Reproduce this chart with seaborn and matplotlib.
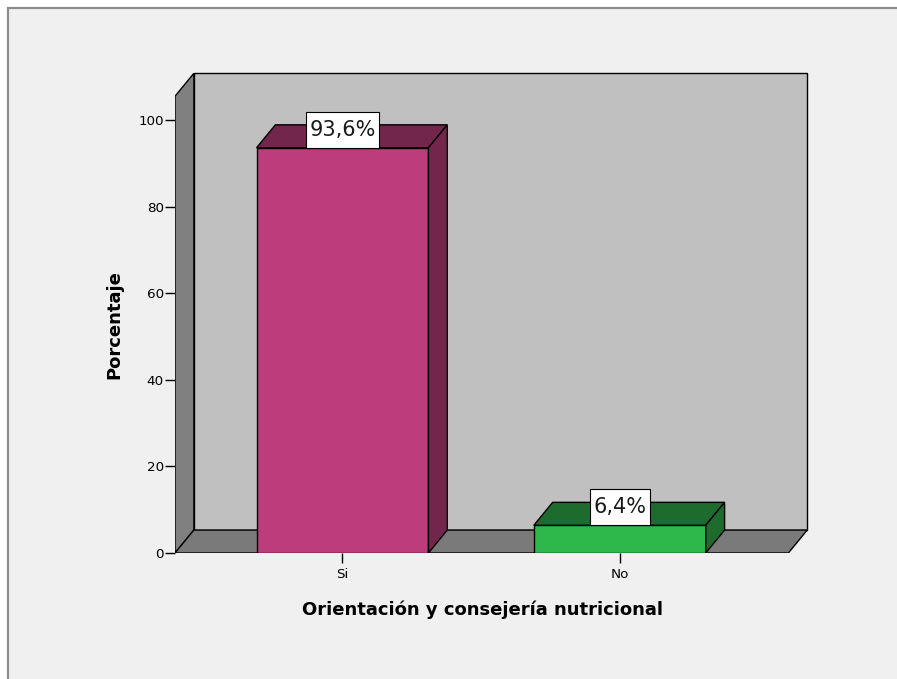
import matplotlib
matplotlib.use("Agg")
import matplotlib.pyplot as plt
from matplotlib.patches import Polygon, Rectangle
from matplotlib.transforms import ScaledTranslation
import seaborn as sns
import pandas as pd

# Data
categories = ["Si", "No"]
percentages = [93.6, 6.4]
value_labels = ["93,6%", "6,4%"]
front_colors = ["#bb3d7b", "#2eb84b"]
shade_colors = ["#72264b", "#1e6b2e"]
y_ticks = [0, 20, 40, 60, 80, 100]

sns.set_style("white")
plt.rcParams["font.family"] = ["DejaVu Sans"]
plt.rcParams["text.color"] = "black"
plt.rcParams["axes.labelcolor"] = "black"
plt.rcParams["xtick.color"] = "black"
plt.rcParams["ytick.color"] = "black"

W, H = 897, 679
DPI = 100
fig = plt.figure(figsize=(W / DPI, H / DPI), dpi=DPI, facecolor="white")

# Outer frame of the chart panel
fig.patches.append(Rectangle((8 / W, -0.05), 1.1, (H - 8) / H + 0.05,
                             transform=fig.transFigure, facecolor="#f0f0f0",
                             edgecolor="#8c8c8c", linewidth=1.6, zorder=-10))

ax = fig.add_axes([175 / W, (H - 553) / H, 635 / W, 481 / H])
ax.set_facecolor("none")

df = pd.DataFrame({"cat": categories, "pct": percentages})
sns.barplot(data=df, x="cat", y="pct", hue="cat", palette=front_colors,
            width=0.62, edgecolor="black", linewidth=1.0, legend=False,
            saturation=1, ax=ax, zorder=3)

# Depth offsets of the pseudo-3D box (data units)
dx, dy = 0.068, 5.3
x_left, x_right = -0.604, 1.608
y_top = 105.5
ax.set_xlim(x_left, x_right + dx + 0.01)
ax.set_ylim(0, y_top + dy + 0.3)

edge = dict(edgecolor="black", linewidth=1.0)
# Back wall, left wall and floor
ax.add_patch(Polygon([(x_left + dx, dy), (x_right + dx, dy),
                      (x_right + dx, y_top + dy), (x_left + dx, y_top + dy)],
                     closed=True, facecolor="#c0c0c0", zorder=0.5, **edge))
ax.add_patch(Polygon([(x_left, 0), (x_left + dx, dy), (x_left + dx, y_top + dy),
                      (x_left, y_top)], closed=True, facecolor="#808080",
                     zorder=0.6, **edge))
ax.add_patch(Polygon([(x_left, 0), (x_right, 0), (x_right + dx, dy),
                      (x_left + dx, dy)], closed=True, facecolor="#7a7a7a",
                     zorder=0.7, **edge))

# Top and side faces of every bar, plus its value label
label_box_px = 36
texts = []
for patch, shade, label in zip(ax.patches[:len(categories)], shade_colors, value_labels):
    x0 = patch.get_x()
    x1 = x0 + patch.get_width()
    v = patch.get_height()
    ax.add_patch(Polygon([(x0, v), (x1, v), (x1 + dx, v + dy), (x0 + dx, v + dy)],
                         closed=True, facecolor=shade, zorder=3.5, **edge))
    ax.add_patch(Polygon([(x1, 0), (x1 + dx, dy), (x1 + dx, v + dy), (x1, v)],
                         closed=True, facecolor=shade, zorder=3.5, **edge))
    shift = ScaledTranslation(0, (label_box_px / 2) / DPI, fig.dpi_scale_trans)
    t = ax.text((x0 + x1) / 2, v, label, ha="center", va="center",
                fontsize=15, color="#1a1a1a", zorder=6,
                transform=ax.transData + shift)
    texts.append((t, (x0 + x1) / 2, v))

for s in ax.spines.values():
    s.set_visible(False)

ax.set_yticks(y_ticks)
ax.set_yticklabels([str(t) for t in y_ticks])
ax.tick_params(axis="y", left=True, direction="out", length=7.5, width=1,
               labelsize=9.7, pad=0.5)
ax.tick_params(axis="x", bottom=True, direction="out", length=7.5, width=1,
               labelsize=9.7, pad=3)

ax.set_ylabel("Porcentaje", fontsize=13, fontweight="bold")
ax.set_xlabel("Orientación y consejería nutricional", fontsize=13,
              fontweight="bold")
ax.yaxis.label.set_va("center")
ax.xaxis.label.set_va("center")
ax.yaxis.set_label_coords((114 - 175) / 635, (553 - 325) / 481)
ax.xaxis.set_label_coords((482 - 175) / 635, (553 - 610) / 481)

# White boxes behind the value labels, sized from the rendered text
fig.canvas.draw()
renderer = fig.canvas.get_renderer()
for t, xc, v in texts:
    ext = t.get_window_extent(renderer)
    _, ybase = ax.transData.transform((xc, v))
    pad_x = 3.5
    fig.patches.append(Rectangle((ext.x0 - pad_x, ybase), ext.width + 2 * pad_x,
                                 label_box_px, transform=None, facecolor="white",
                                 edgecolor="black", linewidth=0.8, zorder=5))
# draw the boxes inside the axes so they sit above the bars
for p in list(fig.patches[1:]):
    fig.patches.remove(p)
    p.set_transform(matplotlib.transforms.IdentityTransform())
    ax.add_artist(p)
    p.set_zorder(5)

fig.savefig("out.png", dpi=DPI, facecolor=fig.get_facecolor())
